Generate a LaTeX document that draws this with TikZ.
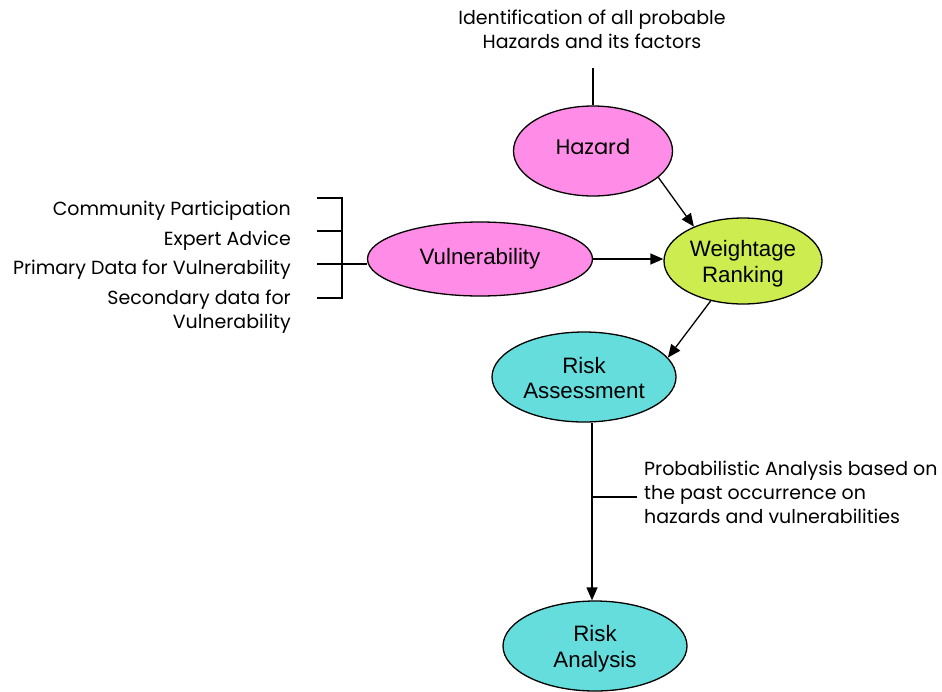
\documentclass[tikz,border=0pt]{standalone}
\usepackage{fontspec}
\setmainfont{Liberation Sans}
\newfontfamily\gothic{Poppins}
\usetikzlibrary{shapes.geometric,arrows.meta}
\definecolor{pinkfill}{RGB}{255,140,230}
\definecolor{greenfill}{RGB}{204,236,80}
\definecolor{cyanfill}{RGB}{102,221,221}
\tikzset{
  ell/.style={ellipse, draw=black, line width=1.3pt, inner sep=0pt, align=center,
    font=\fontsize{22.3}{25.5}\selectfont},
  lbl/.style={inner sep=0pt, font=\gothic\fontsize{19}{24}\selectfont},
  conn/.style={line width=1.3pt, draw=black},
  arr/.style={conn, -{Triangle[length=13pt,width=11pt]}}
}
\begin{document}
\begin{tikzpicture}[x=1pt,y=-1pt]
\useasboundingbox (0,0) rectangle (942,691);
% ellipses
\node[ell, fill=pinkfill, minimum width=159pt, minimum height=90pt] (haz) at (593,151) {\gothic\fontsize{21}{25}\selectfont\raisebox{9pt}{Hazard}};
\node[ell, fill=pinkfill, minimum width=225pt, minimum height=74pt] (vul) at (480,259) {Vulnerability};
\node[ell, fill=greenfill, minimum width=158pt, minimum height=86pt] (wr) at (743,261) {\rule{0pt}{22pt}Weightage\\Ranking};
\node[ell, fill=cyanfill, minimum width=184pt, minimum height=90pt] (ra) at (584,377) {\rule{0pt}{18pt}Risk\\Assessment};
\node[ell, fill=cyanfill, minimum width=184pt, minimum height=90pt] (ran) at (595,646) {\rule{0pt}{22pt}Risk\\Analysis};
% top label
\node[lbl, align=center] (ident) at (592,29) {Identification of all probable\\Hazards and its factors};
\coordinate (identbot) at (593,68);
\draw[conn] (identbot) -- (haz.north);
% arrows
\draw[arr] (haz.-22) -- (wr.145);
\draw[arr] (vul.east) -- (vul.east -| wr.west);
\draw[arr] (wr.231) -- (ra.13);
\coordinate (vx) at (592,0);
\draw[arr] (ra.south -| vx) -- (ran.north -| vx);
% side label for risk analysis
\coordinate (sideA) at (592,497);
\coordinate (sideB) at (637,497);
\draw[conn] (sideA) -- (sideB);
\node[lbl, align=left, anchor=west] (prob) at (644,492) {Probabilistic Analysis based on\\the past occurrence on\\hazards and vulnerabilities};
% bracket
\coordinate (bt) at (342,198);
\coordinate (bb) at (342,298);
\coordinate (t1) at (317,198);
\coordinate (t2) at (317,231);
\coordinate (t3) at (317,264);
\coordinate (t4) at (317,298);
\coordinate (b2) at (342,231);
\draw[conn] (t1) -- (bt) -- (bb) -- (t4);
\draw[conn] (t2) -- (b2);
\draw[conn] (t3) -- (vul.west |- t3);
% left labels
\node[lbl, anchor=east] (cp) at (291,211) {Community Participation};
\node[lbl, anchor=east] (ea) at (291,241) {Expert Advice};
\node[lbl, anchor=east] (pd) at (291,270) {Primary Data for Vulnerability};
\node[lbl, anchor=east, align=right] (sd) at (291,312) {Secondary data for\\Vulnerability};
\end{tikzpicture}
\end{document}
